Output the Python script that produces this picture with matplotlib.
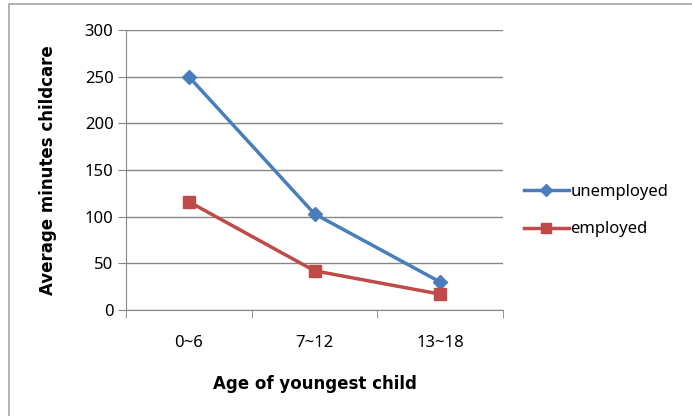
import matplotlib.pyplot as plt
from matplotlib.patches import Rectangle

# datos
categories = ["0~6", "7~12", "13~18"]
unemployed = [250, 103, 30]
employed = [116, 42, 17]
y_ticks = [0, 50, 100, 150, 200, 250, 300]

plt.rcParams['font.family'] = ['Noto Sans', 'DejaVu Sans']

fig = plt.figure(figsize=(6.92, 4.16), dpi=100)
ax = fig.add_axes([126 / 692, 1 - 310 / 416, (503 - 126) / 692, 280 / 416])

# marco exterior
fig.patches.append(Rectangle((9 / 692, -0.1), 1.1, 1 - 4 / 416 + 0.1,
                             transform=fig.transFigure, fill=False,
                             edgecolor="#a6a6a6", linewidth=1.2))

x = range(len(categories))
ax.plot(x, unemployed, color="#4a7ebb", linewidth=2.5, marker="D",
        markersize=7, label="unemployed")
ax.plot(x, employed, color="#be4b48", linewidth=2.5, marker="s",
        markersize=9, label="employed")

ax.set_xlim(-0.5, 2.5)
ax.set_ylim(0, 300)
ax.set_yticks(y_ticks)
ax.set_xticks([0, 1, 2])
ax.set_xticklabels(categories)
ax.set_xticks([-0.5, 0.5, 1.5, 2.5], minor=True)
ax.tick_params(axis="x", which="major", length=0, pad=18, labelsize=12)
ax.tick_params(axis="x", which="minor", length=6, color="#868686", direction="out")
ax.tick_params(axis="y", length=6, color="#868686", labelsize=12, pad=3)

ax.grid(axis="y", color="#868686", linewidth=1)
ax.set_axisbelow(True)
for s in ["top", "right"]:
    ax.spines[s].set_visible(False)
for s in ["left", "bottom"]:
    ax.spines[s].set_color("#868686")

ax.set_ylabel("Average minutes childcare", fontsize=12, fontweight="bold",
              family="DejaVu Sans", labelpad=20)
ax.set_xlabel("Age of youngest child", fontsize=12, fontweight="bold",
              family="DejaVu Sans", labelpad=17)

ax.legend(loc="center left", bbox_to_anchor=(1.015, 0.355), frameon=False,
          fontsize=12, handlelength=2.7, handletextpad=0.1, labelspacing=1.3,
          markerscale=0.85)

fig.savefig("out.png", dpi=100)
